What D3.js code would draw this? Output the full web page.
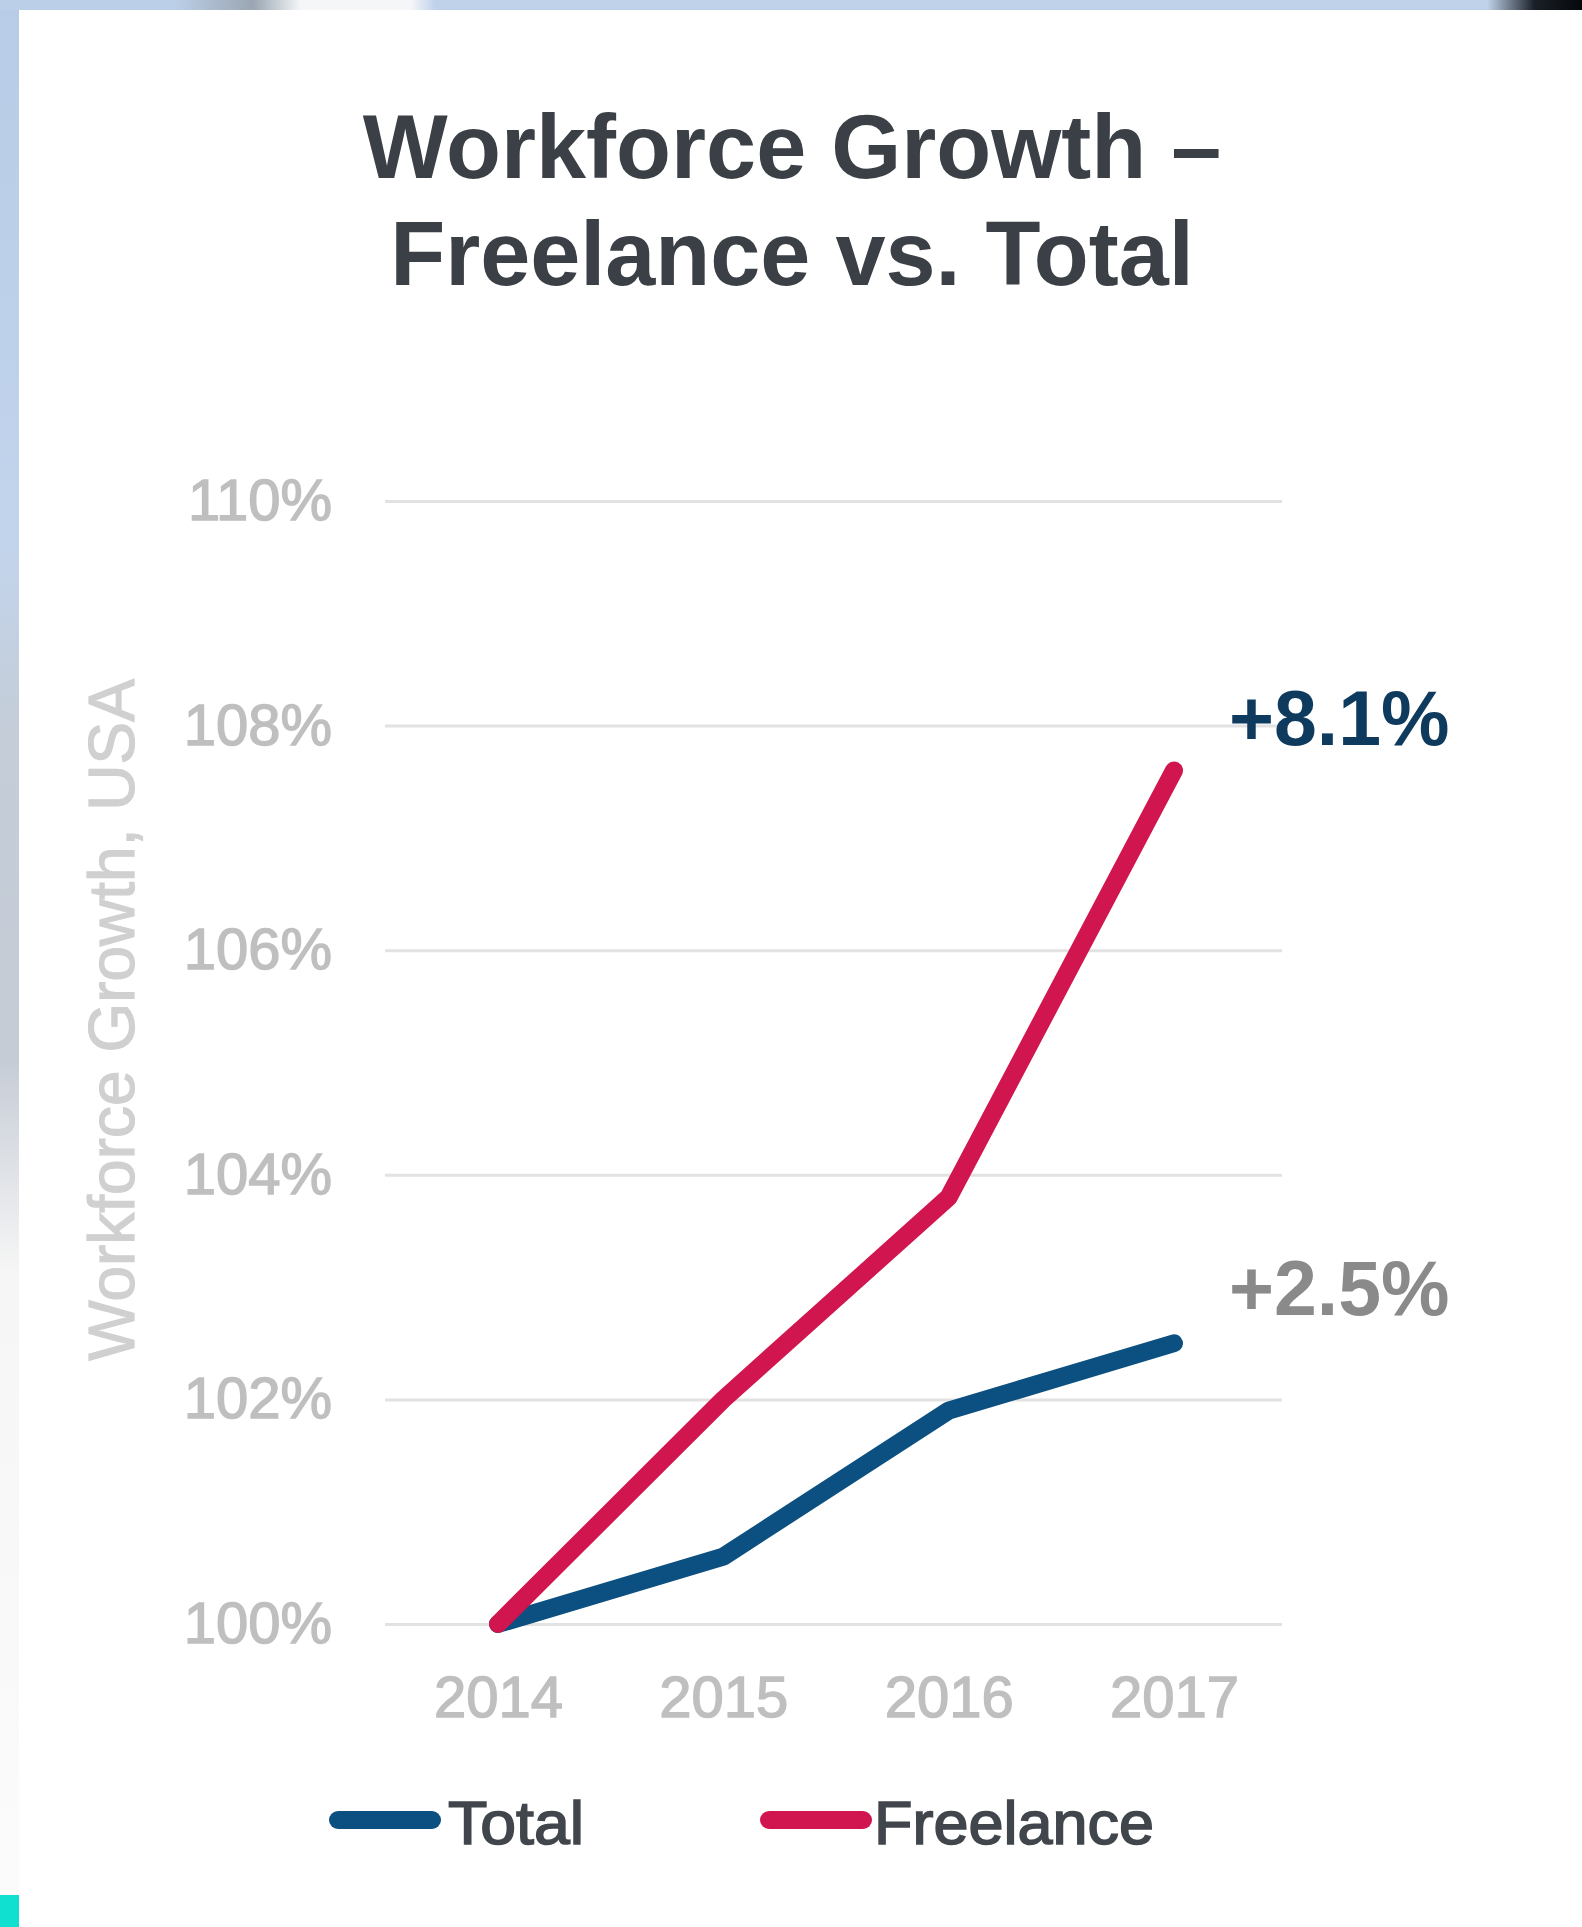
<!DOCTYPE html>
<html>
<head>
<meta charset="utf-8">
<script src="https://cdn.jsdelivr.net/npm/d3@7"></script>
<style>
  html, body { margin: 0; padding: 0; background: #ffffff; }
  svg { display: block; }
  text { font-family: "Liberation Sans", Arial, sans-serif; }
</style>
</head>
<body>
<svg id="chart" width="1582" height="1927"></svg>
<script>
// ---- data ----
const years = ["2014", "2015", "2016", "2017"];
const totalValues = [100.0, 100.6, 101.9, 102.5];
const freelanceValues = [100.0, 102.0, 103.8, 107.6];
const yTicks = [100, 102, 104, 106, 108, 110];
const seriesNames = ["Total", "Freelance"];
const seriesColors = ["#0b5080", "#d0154f"];
const endLabels = ["+2.5%", "+8.1%"];
const titleLines = ["Workforce Growth \u2013", "Freelance vs. Total"];
const yAxisTitle = "Workforce Growth, USA";

const svg = d3.select("#chart");
const W = 1582, H = 1927;

// ---- photographed background frame ----
const defs = svg.append("defs");
const bgGrad = defs.append("linearGradient")
  .attr("id", "leftStrip").attr("x1", 0).attr("y1", 0).attr("x2", 0).attr("y2", 1);
bgGrad.append("stop").attr("offset", "0%").attr("stop-color", "#b8cce7");
bgGrad.append("stop").attr("offset", "28%").attr("stop-color", "#c2d4ec");
bgGrad.append("stop").attr("offset", "38%").attr("stop-color", "#c4cdd8");
bgGrad.append("stop").attr("offset", "55%").attr("stop-color", "#c6ccd6");
bgGrad.append("stop").attr("offset", "66%").attr("stop-color", "#f6f6f6");
bgGrad.append("stop").attr("offset", "100%").attr("stop-color", "#fbfbfb");
const topGrad = defs.append("linearGradient")
  .attr("id", "topStrip").attr("x1", 0).attr("y1", 0).attr("x2", 1).attr("y2", 0);
topGrad.append("stop").attr("offset", "0%").attr("stop-color", "#bccfe8");
topGrad.append("stop").attr("offset", "11%").attr("stop-color", "#bccfe8");
topGrad.append("stop").attr("offset", "16%").attr("stop-color", "#9aa6b2");
topGrad.append("stop").attr("offset", "19%").attr("stop-color", "#f4f6f8");
topGrad.append("stop").attr("offset", "26%").attr("stop-color", "#f4f6f8");
topGrad.append("stop").attr("offset", "27.5%").attr("stop-color", "#c0d2ea");
topGrad.append("stop").attr("offset", "94%").attr("stop-color", "#c0d2ea");
topGrad.append("stop").attr("offset", "97%").attr("stop-color", "#1a2028");
topGrad.append("stop").attr("offset", "100%").attr("stop-color", "#05080b");
svg.append("rect").attr("x", 0).attr("y", 0).attr("width", W).attr("height", H).attr("fill", "#ffffff");
svg.append("rect").attr("x", 0).attr("y", 0).attr("width", 19).attr("height", H).attr("fill", "url(#leftStrip)");
svg.append("rect").attr("x", 0).attr("y", 0).attr("width", W).attr("height", 10).attr("fill", "url(#topStrip)");
svg.append("rect").attr("x", 0).attr("y", 1895).attr("width", 19).attr("height", 32).attr("fill", "#10e0d0");

// ---- scales ----
const x = d3.scalePoint().domain(years).range([498, 1174]);
const y = d3.scaleLinear().domain([100, 110]).range([1624, 501]);
const gridLeft = 385, gridRight = 1282;

// ---- title ----
svg.append("g").selectAll("text").data(titleLines).join("text")
  .attr("x", 792)
  .attr("y", (d, i) => 178 + i * 107)
  .attr("text-anchor", "middle")
  .attr("font-size", 90)
  .attr("font-weight", "bold")
  .attr("fill", "#3b4047")
  .text(d => d);

// ---- y axis with gridlines ----
const yAxis = svg.append("g")
  .attr("transform", `translate(${gridLeft},0)`)
  .call(d3.axisLeft(y).tickValues(yTicks).tickFormat(d => d + "%")
    .tickSize(-(gridRight - gridLeft)).tickPadding(53));
yAxis.select(".domain").remove();
yAxis.selectAll(".tick line").attr("stroke", "#e2e2e2").attr("stroke-width", 3);
yAxis.selectAll(".tick text")
  .attr("font-size", 58)
  .attr("fill", "#bfbfbf")
  .attr("stroke", "#bfbfbf")
  .attr("stroke-width", 1.4)
  .attr("font-family", "Liberation Sans, Arial, sans-serif");

// ---- x axis ----
const xAxis = svg.append("g")
  .attr("transform", `translate(0,${y(100)})`)
  .call(d3.axisBottom(x).tickSize(0).tickPadding(52));
xAxis.select(".domain").remove();
xAxis.selectAll(".tick text")
  .attr("font-size", 58)
  .attr("fill", "#bfbfbf")
  .attr("stroke", "#bfbfbf")
  .attr("stroke-width", 1.4)
  .attr("font-family", "Liberation Sans, Arial, sans-serif");

// ---- y axis title ----
svg.append("text")
  .attr("transform", "translate(134,1020) rotate(-90)")
  .attr("text-anchor", "middle")
  .attr("font-size", 64)
  .attr("fill", "#d0d0d0")
  .attr("stroke", "#d0d0d0")
  .attr("stroke-width", 1.2)
  .text(yAxisTitle);

// ---- lines ----
const line = d3.line().x((d, i) => x(years[i])).y(d => y(d));
const series = [totalValues, freelanceValues];
svg.append("g").selectAll("path").data(series).join("path")
  .attr("d", d => line(d))
  .attr("fill", "none")
  .attr("stroke", (d, i) => seriesColors[i])
  .attr("stroke-width", 18)
  .attr("stroke-linejoin", "round")
  .attr("stroke-linecap", "round");

// ---- end labels ----
const labelColors = ["#8a8a8a", "#0e3a5e"];
const labelBaselines = [1315, 745];
svg.append("g").selectAll("text").data(endLabels).join("text")
  .attr("x", 1229)
  .attr("y", (d, i) => labelBaselines[i])
  .attr("font-size", 77)
  .attr("font-weight", "bold")
  .attr("fill", (d, i) => labelColors[i])
  .text(d => d);

// ---- legend ----
const legendX = [329, 760];
const lg = svg.append("g").selectAll("g").data(seriesNames).join("g")
  .attr("transform", (d, i) => `translate(${legendX[i]},1820)`);
lg.append("line")
  .attr("x1", 9).attr("x2", 103).attr("y1", 0).attr("y2", 0)
  .attr("stroke", (d, i) => seriesColors[i])
  .attr("stroke-width", 18)
  .attr("stroke-linecap", "round");
lg.append("text")
  .attr("x", (d, i) => i === 0 ? 119 : 114)
  .attr("y", 24)
  .attr("font-size", 61)
  .attr("fill", "#41464c")
  .attr("stroke", "#41464c")
  .attr("stroke-width", 1.6)
  .attr("textLength", (d, i) => i === 0 ? 136 : 280)
  .attr("lengthAdjust", "spacingAndGlyphs")
  .text(d => d);
</script>
</body>
</html>
